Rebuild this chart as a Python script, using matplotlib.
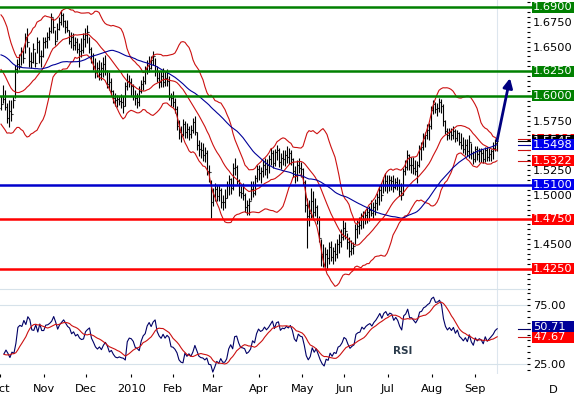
import numpy as np
import pandas as pd
import matplotlib
matplotlib.use("Agg")
import matplotlib.pyplot as plt
from matplotlib.patches import Rectangle
from matplotlib.ticker import MultipleLocator, FixedLocator, FormatStrFormatter

plt.rcParams["font.family"] = "DejaVu Sans"

first_day = "2009-10-05"
last_day = "2010-09-16"

# closes before the first visible bar, only used to warm up the indicators
warmup_close = [
    1.643, 1.637, 1.640, 1.650, 1.670,
    1.690, 1.694, 1.698, 1.688, 1.670,
    1.655, 1.658, 1.666, 1.658, 1.648,
    1.640, 1.650, 1.652, 1.652, 1.655,
    1.643, 1.633, 1.637, 1.630, 1.627,
    1.626, 1.631, 1.635, 1.634, 1.637,
    1.640, 1.652, 1.662, 1.664, 1.670,
    1.659, 1.646, 1.651, 1.648, 1.630,
    1.629, 1.621, 1.630, 1.610, 1.600,
    1.588, 1.597, 1.600, 1.598, 1.588,
]

# daily bars, one line per week
high = [
    1.600, 1.611, 1.606, 1.593, 1.596,  # Oct 5
    1.596, 1.600, 1.631, 1.637, 1.642,
    1.650, 1.646, 1.664, 1.669, 1.650,
    1.644, 1.654, 1.644, 1.660, 1.657,
    1.646, 1.660, 1.660, 1.665, 1.670,  # Nov 2
    1.684, 1.679, 1.667, 1.674, 1.680,
    1.687, 1.684, 1.677, 1.677, 1.667,
    1.665, 1.664, 1.660, 1.659, 1.654,
    1.659, 1.664, 1.669, 1.672, 1.660,  # Nov 30
    1.650, 1.643, 1.638, 1.634, 1.636,
    1.634, 1.639, 1.641, 1.626, 1.624,
    1.618, 1.606, 1.603, 1.601, 1.600,
    1.602, 1.600, 1.614, 1.623, 1.621,  # Dec 28
    1.618, 1.612, 1.606, 1.603, 1.610,
    1.616, 1.620, 1.630, 1.636, 1.640,
    1.640, 1.645, 1.638, 1.630, 1.625,
    1.625, 1.628, 1.625, 1.627, 1.620,
    1.603, 1.605, 1.598, 1.590, 1.576,  # Feb 1
    1.570, 1.577, 1.575, 1.573, 1.570,
    1.571, 1.578, 1.580, 1.563, 1.555,
    1.553, 1.552, 1.548, 1.545, 1.530,
    1.515, 1.507, 1.512, 1.510, 1.510,  # Mar 1
    1.507, 1.500, 1.506, 1.514, 1.520,
    1.517, 1.532, 1.537, 1.530, 1.516,
    1.509, 1.512, 1.502, 1.495, 1.497,
    1.514, 1.514, 1.520, 1.530, 1.530,  # Mar 29
    1.528, 1.535, 1.537, 1.536, 1.540,
    1.547, 1.545, 1.546, 1.550, 1.547,
    1.542, 1.545, 1.545, 1.549, 1.547,
    1.545, 1.537, 1.529, 1.535, 1.537,
    1.533, 1.527, 1.515, 1.497, 1.495,  # May 3
    1.507, 1.504, 1.497, 1.490, 1.478,
    1.455, 1.450, 1.447, 1.445, 1.452,
    1.453, 1.447, 1.451, 1.455, 1.460,
    1.465, 1.474, 1.472, 1.461, 1.457,  # May 31
    1.454, 1.452, 1.470, 1.474, 1.477,
    1.482, 1.484, 1.485, 1.487, 1.489,
    1.495, 1.493, 1.496, 1.502, 1.510,
    1.512, 1.518, 1.522, 1.520, 1.520,  # Jun 28
    1.519, 1.520, 1.517, 1.518, 1.516,
    1.512, 1.527, 1.535, 1.545, 1.541,
    1.538, 1.538, 1.535, 1.534, 1.550,
    1.553, 1.562, 1.564, 1.572, 1.573,
    1.590, 1.596, 1.594, 1.593, 1.598,  # Aug 2
    1.597, 1.592, 1.576, 1.568, 1.568,
    1.568, 1.570, 1.567, 1.566, 1.564,
    1.562, 1.558, 1.556, 1.556, 1.560,
    1.552, 1.544, 1.549, 1.549, 1.547,  # Aug 30
    1.547, 1.546, 1.548, 1.548, 1.547,
    1.546, 1.553, 1.556, 1.558,
]

low = [
    1.586, 1.593, 1.586, 1.573, 1.569,  # Oct 5
    1.575, 1.588, 1.598, 1.623, 1.627,
    1.631, 1.633, 1.643, 1.650, 1.629,
    1.628, 1.633, 1.629, 1.643, 1.633,
    1.629, 1.639, 1.649, 1.649, 1.657,  # Nov 2
    1.664, 1.664, 1.652, 1.657, 1.667,
    1.672, 1.670, 1.664, 1.665, 1.653,
    1.649, 1.646, 1.646, 1.643, 1.629,
    1.639, 1.643, 1.650, 1.654, 1.643,  # Nov 30
    1.633, 1.626, 1.618, 1.619, 1.616,
    1.616, 1.619, 1.621, 1.608, 1.606,
    1.600, 1.593, 1.590, 1.589, 1.591,
    1.588, 1.583, 1.590, 1.606, 1.609,  # Dec 28
    1.600, 1.596, 1.591, 1.588, 1.590,
    1.603, 1.606, 1.612, 1.622, 1.624,
    1.627, 1.631, 1.620, 1.614, 1.608,
    1.609, 1.609, 1.610, 1.610, 1.596,
    1.590, 1.589, 1.583, 1.566, 1.556,  # Feb 1
    1.553, 1.559, 1.557, 1.557, 1.555,
    1.557, 1.562, 1.560, 1.545, 1.539,
    1.537, 1.534, 1.533, 1.520, 1.513,
    1.476, 1.489, 1.494, 1.494, 1.494,  # Mar 1
    1.487, 1.485, 1.487, 1.497, 1.500,
    1.501, 1.505, 1.520, 1.511, 1.499,
    1.497, 1.495, 1.483, 1.479, 1.480,
    1.495, 1.498, 1.500, 1.513, 1.515,  # Mar 29
    1.512, 1.518, 1.520, 1.517, 1.522,
    1.530, 1.527, 1.529, 1.535, 1.528,
    1.526, 1.530, 1.529, 1.532, 1.531,
    1.530, 1.518, 1.512, 1.514, 1.522,
    1.518, 1.510, 1.483, 1.446, 1.468,  # May 3
    1.476, 1.474, 1.478, 1.470, 1.452,
    1.428, 1.427, 1.427, 1.424, 1.430,
    1.433, 1.430, 1.433, 1.436, 1.441,
    1.447, 1.454, 1.455, 1.445, 1.437,  # May 31
    1.439, 1.440, 1.450, 1.456, 1.460,
    1.465, 1.466, 1.470, 1.471, 1.473,
    1.478, 1.476, 1.480, 1.485, 1.490,
    1.494, 1.502, 1.504, 1.502, 1.504,  # Jun 28
    1.505, 1.503, 1.506, 1.505, 1.499,
    1.495, 1.500, 1.520, 1.525, 1.525,
    1.522, 1.521, 1.520, 1.512, 1.528,
    1.535, 1.545, 1.548, 1.556, 1.555,
    1.567, 1.582, 1.583, 1.580, 1.584,  # Aug 2
    1.583, 1.570, 1.561, 1.555, 1.556,
    1.555, 1.556, 1.553, 1.554, 1.550,
    1.546, 1.542, 1.540, 1.539, 1.537,
    1.536, 1.531, 1.533, 1.535, 1.533,  # Aug 30
    1.533, 1.532, 1.533, 1.534, 1.534,
    1.534, 1.536, 1.544, 1.544,
]

close = [
    1.592, 1.597, 1.589, 1.578, 1.585,  # Oct 5
    1.582, 1.596, 1.627, 1.632, 1.630,
    1.645, 1.638, 1.660, 1.655, 1.635,
    1.634, 1.648, 1.633, 1.655, 1.640,
    1.640, 1.655, 1.656, 1.660, 1.666,  # Nov 2
    1.680, 1.670, 1.656, 1.668, 1.675,
    1.682, 1.676, 1.670, 1.667, 1.656,
    1.660, 1.652, 1.655, 1.648, 1.645,
    1.646, 1.658, 1.662, 1.665, 1.648,  # Nov 30
    1.640, 1.630, 1.625, 1.628, 1.622,
    1.628, 1.632, 1.625, 1.612, 1.614,
    1.605, 1.598, 1.596, 1.597, 1.595,
    1.594, 1.590, 1.610, 1.615, 1.614,  # Dec 28
    1.610, 1.600, 1.598, 1.594, 1.605,
    1.612, 1.615, 1.627, 1.633, 1.628,
    1.636, 1.640, 1.625, 1.618, 1.614,
    1.620, 1.614, 1.618, 1.615, 1.599,
    1.598, 1.594, 1.587, 1.570, 1.563,  # Feb 1
    1.561, 1.572, 1.564, 1.567, 1.561,
    1.566, 1.574, 1.563, 1.550, 1.546,
    1.545, 1.540, 1.542, 1.524, 1.523,
    1.493, 1.499, 1.506, 1.499, 1.505,  # Mar 1
    1.493, 1.493, 1.497, 1.510, 1.516,
    1.507, 1.527, 1.528, 1.514, 1.503,
    1.502, 1.500, 1.488, 1.490, 1.494,
    1.506, 1.502, 1.517, 1.526, 1.522,  # Mar 29
    1.524, 1.530, 1.526, 1.530, 1.536,
    1.542, 1.532, 1.543, 1.545, 1.533,
    1.537, 1.536, 1.540, 1.538, 1.542,
    1.536, 1.524, 1.520, 1.530, 1.527,
    1.526, 1.513, 1.490, 1.478, 1.482,  # May 3
    1.494, 1.483, 1.488, 1.474, 1.456,
    1.440, 1.430, 1.440, 1.436, 1.447,
    1.437, 1.443, 1.440, 1.450, 1.452,
    1.457, 1.466, 1.463, 1.452, 1.443,  # May 31
    1.446, 1.448, 1.465, 1.468, 1.469,
    1.478, 1.475, 1.480, 1.483, 1.485,
    1.482, 1.488, 1.492, 1.498, 1.505,
    1.500, 1.510, 1.514, 1.510, 1.515,  # Jun 28
    1.514, 1.508, 1.513, 1.510, 1.504,
    1.500, 1.524, 1.528, 1.540, 1.530,
    1.530, 1.527, 1.524, 1.530, 1.546,
    1.548, 1.557, 1.560, 1.566, 1.570,
    1.586, 1.592, 1.587, 1.588, 1.594,  # Aug 2
    1.590, 1.575, 1.565, 1.560, 1.564,
    1.560, 1.565, 1.557, 1.562, 1.553,
    1.550, 1.546, 1.550, 1.544, 1.553,
    1.542, 1.536, 1.546, 1.541, 1.544,  # Aug 30
    1.542, 1.536, 1.545, 1.538, 1.541,
    1.544, 1.547, 1.552, 1.5545,
]

green_levels = [1.6900, 1.6250, 1.6000]
blue_levels = [1.5100]
red_levels = [1.4750, 1.4250]

# texts of the value boxes on the right axis
upper_text = "1.5596"
close_text = "1.5545"
ma_text = "1.5498"
lower_text = "1.5322"
rsi_text = "50.71"
rsi_ma_text = "47.67"

target_price = 1.618
target_ahead = 6.5

month_starts = ["2009-10-01", "2009-11-01", "2009-12-01", "2010-01-01",
                "2010-02-01", "2010-03-01", "2010-04-01", "2010-05-01",
                "2010-06-01", "2010-07-01", "2010-08-01", "2010-09-01"]
month_labels = ["Oct", "Nov", "Dec", "2010", "Feb", "Mar", "Apr", "May",
                "Jun", "Jul", "Aug", "Sep"]

# indicators: bollinger 20/2, sma 50, rsi 14 with a 9 day average
n_warm = len(warmup_close)
series = pd.Series(warmup_close + close)
mid = series.rolling(20).mean()
sd = series.rolling(20).std(ddof=0)
upper = (mid + 2 * sd).values[n_warm:]
lower = (mid - 2 * sd).values[n_warm:]
mid = mid.values[n_warm:]
ma50 = series.rolling(50).mean().values[n_warm:]
delta = series.diff()
gain = delta.clip(lower=0).ewm(alpha=1 / 14, adjust=False).mean()
loss = (-delta.clip(upper=0)).ewm(alpha=1 / 14, adjust=False).mean()
rsi_all = 100 - 100 / (1 + gain / loss)
rsi_ma = rsi_all.rolling(9).mean().values[n_warm:]
rsi = rsi_all.values[n_warm:]

x = np.arange(len(close))
opens = [warmup_close[-1]] + close[:-1]
month_pos = np.busday_count(first_day, month_starts)

W, H = 574, 398
fig = plt.figure(figsize=(W / 100, H / 100), dpi=100)


def px_axes(left, top, right, bottom):
    return fig.add_axes([left / W, 1 - bottom / H, (right - left) / W, (bottom - top) / H])


ax = px_axes(0, 0, 527, 289)
ax_rsi = px_axes(0, 289, 527, 374)
box_x = 532 / 527
mark_x = [518 / 527, 530 / 527]


def value_box(axis, y, text, color, shift_px=0, z=6):
    # shift_px > 0 moves the box up
    lo, hi = axis.get_ylim()
    per_px = (hi - lo) / (axis.get_position().height * H)
    yc = y + shift_px * per_px
    tr = axis.get_yaxis_transform()
    axis.add_patch(Rectangle((box_x, yc - 5.5 * per_px), 42 / 527, 11 * per_px,
                             transform=tr, fc=color, ec="none", clip_on=False, zorder=z))
    axis.text(box_x + 1 / 527, yc, text, transform=tr, ha="left", va="center",
              color="white", fontsize=8.2, clip_on=False, zorder=z + 0.5)


def mark(axis, y, color):
    axis.plot(mark_x, [y, y], transform=axis.get_yaxis_transform(), color=color,
              lw=0.8, clip_on=False, zorder=5)


for a in (ax, ax_rsi):
    a.set_xlim(-0.5, 263)
    for s in a.spines.values():
        s.set_visible(False)
    a.axvline(x[-1], color="#dde6ee", lw=0.8, zorder=0)

# price panel
ax.set_ylim(1.4046, 1.6971)
ax.vlines(x, low, high, color="black", lw=0.8, zorder=2)
ax.hlines(opens, x - 0.5, x, color="black", lw=0.8, zorder=2)
ax.hlines(close, x, x + 0.5, color="black", lw=0.8, zorder=2)
ax.plot(x, upper, color="#cc1111", lw=0.8, zorder=3)
ax.plot(x, mid, color="#cc1111", lw=0.8, zorder=3)
ax.plot(x, lower, color="#cc1111", lw=0.8, zorder=3)
ax.plot(x, ma50, color="#000099", lw=0.8, zorder=3)

for levels, color in ((green_levels, "#008000"), (blue_levels, "#0000cc"), (red_levels, "#ff0000")):
    for lv in levels:
        ax.axhline(lv, xmin=0, xmax=box_x, color=color, lw=1.8, clip_on=False, zorder=4)
        value_box(ax, lv, f"{lv:.4f}", color if color != "#0000cc" else "#0000ee")

mark(ax, upper[-1], "#cc1111")
mark(ax, mid[-1], "#cc1111")
mark(ax, lower[-1], "#cc1111")
mark(ax, ma50[-1], "#000099")
mark(ax, close[-1], "black")
value_box(ax, upper[-1], upper_text, "#ff0000", z=6)
value_box(ax, close[-1], close_text, "black", z=7)
value_box(ax, ma50[-1], ma_text, "#0000ee", z=8)
value_box(ax, lower[-1], lower_text, "#ff0000", z=6)

ax.annotate("", xy=(x[-1] + target_ahead, target_price), xytext=(x[-1], close[-1]),
            arrowprops=dict(arrowstyle="-|>", color="#000080", lw=2, mutation_scale=14,
                            shrinkA=0, shrinkB=0),
            annotation_clip=False, zorder=9)

ax.yaxis.tick_right()
ax.yaxis.set_major_locator(MultipleLocator(0.025))
ax.yaxis.set_minor_locator(MultipleLocator(0.005))
ax.yaxis.set_major_formatter(FormatStrFormatter("%.4f"))
ax.tick_params(axis="y", which="both", direction="out", length=2.2, width=0.8,
               pad=2.2, labelsize=8.2)
ax.tick_params(axis="x", bottom=False, labelbottom=False)

# rsi panel
ax_rsi.set_ylim(16.5, 88.6)
ax_rsi.spines["top"].set_visible(True)
ax_rsi.spines["top"].set_color("#d6e2ea")
for g in (25, 75):
    ax_rsi.axhline(g, color="#d6e2ea", lw=0.8, zorder=0)
ax_rsi.plot(x, rsi_ma, color="#cc1111", lw=0.8, zorder=3)
ax_rsi.plot(x, rsi, color="#000066", lw=0.8, zorder=2)
mark(ax_rsi, rsi[-1], "#000066")
mark(ax_rsi, rsi_ma[-1], "#cc1111")
value_box(ax_rsi, float(rsi_text), rsi_text, "#000099", shift_px=7, z=6)
value_box(ax_rsi, float(rsi_ma_text), rsi_ma_text, "#ff0000", z=7)
ax_rsi.text(0.765, 0.27, "RSI", transform=ax_rsi.transAxes, ha="center", va="center",
            fontsize=7.5, fontweight="bold", color="#2a3a4a")

ax_rsi.yaxis.tick_right()
ax_rsi.yaxis.set_major_locator(FixedLocator([25, 50, 75]))
ax_rsi.yaxis.set_minor_locator(MultipleLocator(5))
ax_rsi.yaxis.set_major_formatter(FormatStrFormatter("%.2f"))
ax_rsi.tick_params(axis="y", which="both", direction="out", length=2.2, width=0.8,
                   pad=2.2, labelsize=8.2)
ax_rsi.set_xticks(month_pos)
ax_rsi.set_xticklabels(month_labels)
ax_rsi.tick_params(axis="x", direction="out", length=2.5, width=0.8, pad=4.5, labelsize=8.2)

fig.text(553 / W, 1 - 390 / H, "D", ha="center", va="center", fontsize=8.2)

fig.savefig("out.png", dpi=100)
